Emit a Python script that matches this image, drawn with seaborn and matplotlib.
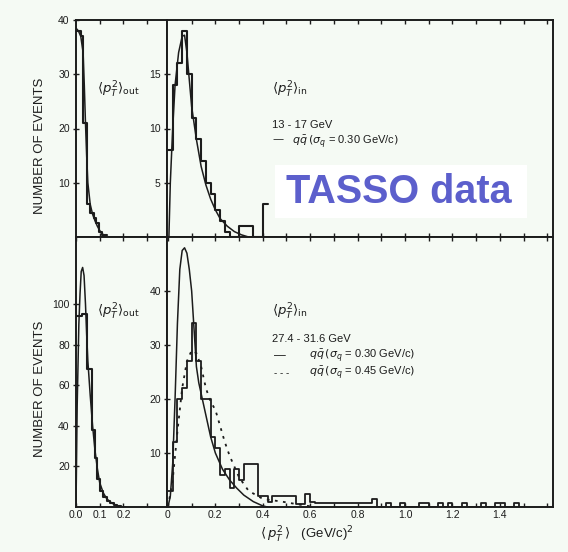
import numpy as np
import pandas as pd
import matplotlib
matplotlib.use("Agg")
import matplotlib.pyplot as plt
import seaborn as sns
from matplotlib.patches import Rectangle

# ---------------- data ----------------
# top-left: <pT^2>_out, 13-17 GeV (variable-width bins)
out_lo_edges = [0.0, 0.01, 0.02, 0.031, 0.045, 0.06, 0.075, 0.085, 0.095, 0.11, 0.13]
out_lo_counts = [38, 38, 37, 21, 6, 4.5, 3.5, 2.5, 1, 0.3]
out_lo_curve_x = [0.0, 0.01, 0.02, 0.03, 0.035, 0.04, 0.045, 0.05, 0.06, 0.07, 0.08, 0.09, 0.10, 0.11, 0.125, 0.14]
out_lo_curve_y = [38.5, 38, 37, 34, 28, 21, 15, 10, 6, 4.2, 3, 2, 1.2, 0.6, 0.2, 0]

# top-right: <pT^2>_in, 13-17 GeV (0.02 bins starting at 0)
in_lo_counts = [8, 14, 16, 19, 15, 11, 9, 7, 5, 4, 2.5, 1.5, 0.5, 0, 0, 1, 1, 1, 0, 0, 3]
in_lo_curve_x = [0.004, 0.01, 0.02, 0.03, 0.045, 0.06, 0.07, 0.08, 0.09, 0.10, 0.12, 0.14, 0.16, 0.18,
                 0.20, 0.22, 0.25, 0.28, 0.31, 0.34]
in_lo_curve_y = [0, 5, 10, 14, 17, 18.5, 18.6, 17, 14.5, 12, 9, 6.5, 4.8, 3.5, 2.5, 1.7, 1.0, 0.5, 0.2, 0]

# bottom-left: <pT^2>_out, 27.4-31.6 GeV (variable-width bins)
out_hi_edges = [0.0, 0.024, 0.045, 0.066, 0.08, 0.09, 0.10, 0.115, 0.13, 0.145, 0.16, 0.175, 0.19]
out_hi_counts = [94, 95, 68, 38, 24, 14, 8, 5, 3, 2, 1, 0.5]
out_hi_curve_x = [0.0, 0.005, 0.012, 0.017, 0.022, 0.028, 0.034, 0.04, 0.045, 0.05, 0.06, 0.07, 0.08,
                  0.09, 0.10, 0.115, 0.13, 0.15, 0.17, 0.19, 0.21]
out_hi_curve_y = [0, 50, 90, 105, 116, 118, 114, 100, 85, 72, 55, 40, 28, 19, 12, 7, 4, 2, 0.8, 0.2, 0]

# bottom-right: <pT^2>_in, 27.4-31.6 GeV (0.02 bins starting at 0, up to 1.50)
in_hi_counts = [3, 12, 20, 22, 27, 34, 27, 20, 20, 13,
                11, 6, 7, 3.5, 7, 5, 8, 8, 8, 2,
                2, 1, 2, 2, 2, 2, 2, 0.5, 0.5, 2.5,
                1, 0.7, 0.7, 0.7, 0.7, 0.7, 0.7, 0.7, 0.7, 0.7,
                0.7, 0.7, 0.7, 1.5, 0, 0, 0.8, 0, 0, 0.8,
                0, 0, 0, 0.8, 0.8, 0, 0, 0.8, 0, 0.8,
                0, 0, 0.8, 0, 0, 0, 0.8, 0, 0, 0.8,
                0.8, 0, 0, 0.8, 0]
in_hi_curve30_x = [0.0, 0.01, 0.02, 0.03, 0.04, 0.05, 0.06, 0.07, 0.08, 0.09, 0.10, 0.11, 0.12, 0.13,
                   0.15, 0.18, 0.20, 0.23, 0.26, 0.29, 0.32, 0.36, 0.40, 0.42]
in_hi_curve30_y = [0, 2, 8, 20, 34, 44, 47.5, 48, 47, 44, 40, 33, 26, 23, 19, 13, 10, 7, 5, 3.5, 2.2, 1, 0.2, 0]
in_hi_curve45_x = [0.0, 0.02, 0.04, 0.06, 0.08, 0.10, 0.12, 0.14, 0.16, 0.18, 0.20, 0.22, 0.24, 0.26,
                   0.28, 0.30, 0.34, 0.40, 0.48, 0.56, 0.62]
in_hi_curve45_y = [0, 5, 14, 22, 27, 29, 28.5, 26, 22, 19.5, 18, 15, 12, 9.5, 7.5, 5.5, 3, 1.5, 1, 0.4, 0]

bin_width_in = 0.02

# ---------------- style ----------------
sns.set_style("ticks")
BG = "#f5faf4"
INK = "#1c1c1c"
plt.rcParams["font.family"] = ["Liberation Sans", "DejaVu Sans"]
plt.rcParams["mathtext.fontset"] = "dejavusans"

fig = plt.figure(figsize=(5.68, 5.52), dpi=100)
fig.patch.set_facecolor(BG)

W, H = 568.0, 552.0
def rect(x0, y0, x1, y1):
    return [x0 / W, 1 - y1 / H, (x1 - x0) / W, (y1 - y0) / H]

ax_tl = fig.add_axes(rect(76, 20, 167, 237))
ax_tr = fig.add_axes(rect(167, 20, 553, 237))
ax_bl = fig.add_axes(rect(76, 237, 167, 507))
ax_br = fig.add_axes(rect(167, 237, 553, 507))

def hist(ax, edges, counts, lw=1.5):
    edges = [float(e) for e in edges]
    centers = [(a + b) / 2 for a, b in zip(edges[:-1], edges[1:])]
    df = pd.DataFrame({"x": centers, "w": counts})
    sns.histplot(data=df, x="x", weights="w", bins=edges, element="step", fill=False,
                 color=INK, linewidth=lw, ax=ax)

def curve(ax, xs, ys, ls="-", lw=1.1):
    df = pd.DataFrame({"x": xs, "y": ys})
    sns.lineplot(data=df, x="x", y="y", sort=False, color=INK, linestyle=ls, linewidth=lw, ax=ax)

edges_in_lo = [round(i * bin_width_in, 4) for i in range(len(in_lo_counts) + 1)]
edges_in_hi = [round(i * bin_width_in, 4) for i in range(len(in_hi_counts) + 1)]

hist(ax_tl, out_lo_edges, out_lo_counts)
curve(ax_tl, out_lo_curve_x, out_lo_curve_y)
hist(ax_tr, edges_in_lo, in_lo_counts)
curve(ax_tr, in_lo_curve_x, in_lo_curve_y)
hist(ax_bl, out_hi_edges, out_hi_counts)
curve(ax_bl, out_hi_curve_x, out_hi_curve_y)
hist(ax_br, edges_in_hi, in_hi_counts, lw=1.3)
curve(ax_br, in_hi_curve30_x, in_hi_curve30_y)
curve(ax_br, in_hi_curve45_x, in_hi_curve45_y, ls=(0, (1.5, 3)), lw=1.3)

# limits
ax_tl.set_xlim(0, 0.384); ax_tl.set_ylim(0, 40)
ax_bl.set_xlim(0, 0.384); ax_bl.set_ylim(0, 133)
ax_tr.set_xlim(-0.004, 1.624); ax_tr.set_ylim(0, 20)
ax_br.set_xlim(-0.004, 1.624); ax_br.set_ylim(0, 50)

tick_fs = 7.5
for ax in (ax_tl, ax_tr, ax_bl, ax_br):
    ax.set_facecolor(BG)
    ax.set_xlabel(""); ax.set_ylabel("")
    for s in ax.spines.values():
        s.set_visible(True)
        s.set_color(INK)
        s.set_linewidth(1.4)
    ax.tick_params(axis="both", which="both", direction="in", color=INK, width=1.0,
                   labelsize=tick_fs, labelcolor=INK, pad=2, top=True)
    ax.tick_params(axis="x", which="major", length=3)
    ax.tick_params(axis="y", which="major", length=5, direction="inout")

ax_tl.set_yticks([10, 20, 30, 40])
ax_tr.set_yticks([5, 10, 15])
ax_bl.set_yticks([20, 40, 60, 80, 100])
ax_br.set_yticks([10, 20, 30, 40])

ax_tl.set_xticks([0.1, 0.2, 0.3]); ax_tl.set_xticklabels([])
tr_ticks = [round(0.1 * i, 2) for i in range(1, 17)]
ax_tr.set_xticks(tr_ticks); ax_tr.set_xticklabels([])
ax_bl.set_xticks([0.0, 0.1, 0.2, 0.3]); ax_bl.set_xticklabels(["0.0", "0.1", "0.2", ""])
br_ticks = [round(0.1 * i, 2) for i in range(0, 17)]
ax_br.set_xticks(br_ticks)
ax_br.set_xticklabels(["0" if i == 0 else (f"{v:.1f}" if (i % 2 == 0 and i < 16) else "")
                       for i, v in enumerate(br_ticks)])

# axis titles
fig.text(40 / W, 1 - 146 / H, "NUMBER OF EVENTS", rotation=90, ha="center", va="center",
         fontsize=9.5, color=INK)
fig.text(40 / W, 1 - 389 / H, "NUMBER OF EVENTS", rotation=90, ha="center", va="center",
         fontsize=9.5, color=INK)
fig.text(307 / W, 1 - 535 / H, r"$\langle\, p_T^2 \,\rangle$   (GeV/c)$^2$", ha="center", va="center",
         fontsize=9.5, color=INK)

def ftext(x, y, s, fs=7, **kw):
    fig.text(x / W, 1 - y / H, s, ha="left", va="center", fontsize=fs, color=INK, **kw)

ftext(97, 90, r"$\langle p_T^2\rangle_{\rm out}$", 9.5)
ftext(272, 90, r"$\langle p_T^2\rangle_{\rm in}$", 9.5)
ftext(272, 125, "13 - 17 GeV", 8)
ftext(272, 142, r"—   $q\bar{q}\,(\sigma_q$ = 0.30 GeV/c$)$", 8)

ftext(97, 312, r"$\langle p_T^2\rangle_{\rm out}$", 9.5)
ftext(272, 312, r"$\langle p_T^2\rangle_{\rm in}$", 9.5)
ftext(272, 339, "27.4 - 31.6 GeV", 8)
ftext(274, 356, "—", 8.5)
ftext(309, 356, r"$q\bar{q}\,(\sigma_q$ = 0.30 GeV/c$)$", 8)
ftext(274, 373, "- - -", 7)
ftext(309, 373, r"$q\bar{q}\,(\sigma_q$ = 0.45 GeV/c$)$", 8)

# TASSO data label box
fig.patches.append(Rectangle((275 / W, 1 - 218 / H), (527 - 275) / W, (218 - 165) / H,
                             transform=fig.transFigure, facecolor="white", edgecolor="none", zorder=5))
fig.text(399 / W, 1 - 192 / H, "TASSO data", ha="center", va="center", fontsize=28.5,
         fontweight="bold", color="#5c5fcc", zorder=6)

fig.savefig("out.png", dpi=100, facecolor=BG)
